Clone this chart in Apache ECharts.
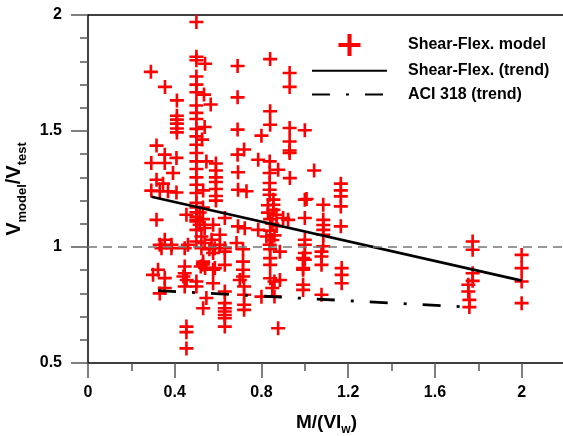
<!DOCTYPE html>
<html>
<head>
<meta charset="utf-8">
<script src="https://cdn.jsdelivr.net/npm/echarts@6/dist/echarts.min.js"></script>
<style>
html,body{margin:0;padding:0;background:#fff;}
#chart{width:563px;height:436px;}
</style>
</head>
<body>
<div id="chart"></div>
<script>
// ---- data ----
const seriesNames = ['Shear-Flex. model', 'Shear-Flex. (trend)', 'ACI 318 (trend)'];
const xTickLabels = ['0', '0.4', '0.8', '1.2', '1.6', '2'];
const yTickLabels = ['0.5', '1', '1.5', '2'];
const referenceRatio = 1;

const shearFlexModel = [
  [0.50,1.97],[0.29,1.755],[0.355,1.69],[0.50,1.82],[0.50,1.805],[0.54,1.79],[0.69,1.78],[0.84,1.81],[0.93,1.75],[0.93,1.69],
  [0.50,1.735],[0.50,1.70],[0.50,1.667],[0.535,1.657],[0.69,1.645],[0.41,1.632],[0.50,1.61],[0.566,1.614],[0.50,1.578],[0.84,1.585],
  [0.41,1.566],[0.41,1.549],[0.41,1.532],[0.41,1.511],[0.41,1.494],[0.50,1.552],[0.50,1.509],[0.538,1.517],[0.84,1.527],[0.69,1.506],
  [0.93,1.513],[1.0,1.503],[0.80,1.48],[0.50,1.477],[0.50,1.441],[0.526,1.463],[0.316,1.437],[0.93,1.455],[0.93,1.416],[0.93,1.405],
  [0.72,1.42],[0.69,1.398],[0.354,1.398],[0.408,1.384],[0.292,1.362],[0.354,1.362],[0.50,1.405],[0.50,1.369],[0.50,1.336],[0.546,1.369],
  [0.59,1.36],[0.392,1.319],[0.785,1.376],[0.838,1.369],[0.877,1.333],[0.692,1.322],[0.838,1.319],[1.043,1.33],[0.59,1.33],[0.59,1.30],
  [0.316,1.29],[0.346,1.273],[0.59,1.28],[0.50,1.30],[0.50,1.268],[0.50,1.233],[0.292,1.243],[0.331,1.24],[0.369,1.24],[0.408,1.235],
  [0.531,1.244],[0.59,1.25],[0.59,1.22],[0.59,1.20],[0.931,1.297],[0.838,1.276],[0.838,1.247],[0.838,1.225],[0.692,1.247],[0.731,1.24],
  [1.0,1.204],[1.166,1.273],[1.166,1.244],[1.166,1.218],[1.008,1.207],
  [0.50,1.19],[0.50,1.17],[0.50,1.15],[0.50,1.13],[0.50,1.11],[0.53,1.17],[0.53,1.12],[0.454,1.139],[0.515,1.149],[0.316,1.117],
  [0.631,1.125],[0.855,1.204],[0.855,1.182],[0.855,1.16],[0.869,1.139],[0.90,1.125],[0.923,1.117],[0.83,1.18],[0.83,1.148],[1.0,1.125],
  [1.085,1.182],[1.166,1.175],[1.085,1.117],[0.692,1.089],[0.723,1.081],[0.785,1.074],[1.085,1.095],[1.085,1.074],[1.085,1.053],[1.166,1.089],
  [0.608,1.053],[0.608,1.01],[0.685,1.017],[0.354,1.031],[0.385,1.01],[0.331,1.01],[0.461,1.01],[1.0,1.031],[1.085,1.003],
  [0.515,1.096],[0.538,1.082],[0.577,1.096],[0.50,1.074],[0.523,1.045],[0.50,1.024],[0.538,1.017],[0.57,1.031],[0.50,1.117],
  [0.823,1.045],[0.838,1.01],[0.84,1.12],[0.85,1.10],[0.84,1.07],[0.86,1.05],[0.85,1.03],[0.87,1.09],[1.774,1.024],
  [0.323,0.902],[0.30,0.88],[0.354,0.866],[0.354,0.823],[0.331,0.80],[0.446,0.916],[0.446,0.887],[0.44,0.873],[0.455,0.858],[0.446,0.83],
  [0.50,0.851],[0.50,0.83],[0.523,0.995],[0.56,0.99],[0.577,0.974],[0.577,0.902],[0.577,0.844],[0.339,0.995],[0.385,0.995],[0.446,0.995],
  [0.546,0.78],[0.531,0.736],[0.454,0.657],[0.454,0.633],[0.454,0.563],[0.531,0.937],[0.53,0.925],[0.52,0.916],[0.54,0.91],
  [0.631,0.923],[0.631,0.808],[0.631,0.758],[0.631,0.736],[0.631,0.722],[0.631,0.707],[0.631,0.693],[0.631,0.657],
  [0.715,0.99],[0.715,0.937],[0.715,0.902],[0.715,0.873],[0.70,0.858],[0.72,0.83],[0.72,0.794],[0.72,0.751],[0.72,0.729],
  [0.585,0.909],[0.80,0.786],[0.84,0.99],[0.84,0.952],[0.84,0.923],[0.84,0.865],[0.86,0.851],[0.85,0.823],[0.86,0.787],[0.877,0.65],
  [0.992,0.952],[0.992,0.909],[0.992,0.902],[0.992,0.837],[0.992,0.815],[0.585,0.995],[0.631,0.995],[0.631,0.98],
  [1.0,1.01],[1.0,0.974],[1.0,0.945],[1.077,0.98],[1.077,0.959],[1.077,0.923],[1.077,0.794],[1.17,0.909],[1.17,0.88],[1.17,0.844],
  [0.885,0.98],[0.885,0.858],
  [1.774,0.988],[1.774,0.887],[1.774,0.854],[1.754,0.837],[1.754,0.808],[1.759,0.772],[1.759,0.741],
  [2.0,0.966],[2.0,0.909],[2.0,0.851],[2.0,0.758]
];
const shearFlexTrend = [[0.293,1.217],[2.0,0.855]];
const aciTrend = [[0.323,0.812],[1.754,0.741]];

// ---- chart ----
const chart = echarts.init(document.getElementById('chart'), null, {renderer:'canvas'});
const FONT = '"Liberation Sans", Arial, Helvetica, sans-serif';
const plusPath = 'path://M5.7,0 H8.3 V5.7 H14 V8.3 H8.3 V14 H5.7 V8.3 H0 V5.7 H5.7 Z';
const tickColor = '#555';
const hiddenMarker = {color: 'rgba(0,0,0,0)', borderColor: 'rgba(0,0,0,0)', borderWidth: 0};

const option = {
  animation: false,
  backgroundColor: '#fff',
  textStyle: {fontFamily: FONT},
  grid: {left: 88, top: 15, width: 477, height: 348, containLabel: false, outerBoundsMode: 'none'},
  legend: {
    orient: 'vertical', left: 311, top: 34, padding: 0,
    itemWidth: 75, itemHeight: 22, itemGap: 6,
    data: [
      {name: seriesNames[0]},
      {name: seriesNames[1], itemStyle: hiddenMarker},
      {name: seriesNames[2], itemStyle: hiddenMarker}
    ],
    textStyle: {fontFamily: FONT, fontSize: 16, fontWeight: 'bold', color: '#000', padding: [0,0,0,16]}
  },
  xAxis: [
    {
      type: 'value', min: 0, max: 2.2, interval: 0.4, position: 'bottom',
      axisLine: {show: true, onZero: false, lineStyle: {color: '#000', width: 1.5}},
      axisTick: {show: true, length: 15, lineStyle: {color: tickColor, width: 1.5}},
      axisLabel: {show: true, margin: 22, showMaxLabel: false, color: '#000', fontFamily: FONT, fontSize: 16, fontWeight: 'bold',
        formatter: v => { const i = Math.round(v/0.4); return (Math.abs(v - i*0.4) < 1e-6 && i < xTickLabels.length) ? xTickLabels[i] : ''; }},
      splitLine: {show: false},
      name: '{a|M/(VI}{s|w}{a|)}', nameLocation: 'middle', nameGap: 50,
      nameTextStyle: {rich: {
        a: {fontFamily: FONT, fontSize: 19, fontWeight: 'bold', color: '#000', lineHeight: 19, verticalAlign: 'top'},
        s: {fontFamily: FONT, fontSize: 12, fontWeight: 'bold', color: '#000', lineHeight: 12, verticalAlign: 'top', padding: [11,0,0,0]}
      }}
    },
    {
      type: 'value', min: 0, max: 2.2, interval: 0.2, position: 'bottom',
      axisLine: {show: false, onZero: false},
      axisTick: {show: true, length: 8, lineStyle: {color: tickColor, width: 1.5}},
      axisLabel: {show: false}, splitLine: {show: false}
    },
    {
      type: 'value', min: 0, max: 2.2, position: 'top',
      axisLine: {show: true, onZero: false, lineStyle: {color: '#000', width: 1.5}},
      axisTick: {show: false}, axisLabel: {show: false}, splitLine: {show: false}
    }
  ],
  yAxis: {
    type: 'value', min: 0.5, max: 2, interval: 0.5,
    axisLine: {show: true, onZero: false, lineStyle: {color: '#000', width: 1.5}},
    axisTick: {show: true, length: 17, lineStyle: {color: tickColor, width: 1.5}},
    minorTick: {show: true, splitNumber: 5, length: 8, lineStyle: {color: tickColor, width: 1.5}},
    axisLabel: {margin: 26, color: '#000', fontFamily: FONT, fontSize: 16, fontWeight: 'bold',
      formatter: v => { const i = Math.round((v-0.5)/0.5); return yTickLabels[i] !== undefined ? yTickLabels[i] : ''; }},
    splitLine: {show: false},
    name: '{a|V}{s|model}{a|/V}{s|test}', nameLocation: 'middle', nameGap: 45,
    nameTextStyle: {rich: {
      a: {fontFamily: FONT, fontSize: 20, fontWeight: 'bold', color: '#000', lineHeight: 20, verticalAlign: 'top'},
      s: {fontFamily: FONT, fontSize: 13, fontWeight: 'bold', color: '#000', lineHeight: 13, verticalAlign: 'top', padding: [11,0,0,0]}
    }}
  },
  series: [
    {
      name: 'ref', type: 'line', xAxisIndex: 0, data: [], z: 1, silent: true,
      markLine: {silent: true, symbol: 'none', label: {show: false},
        lineStyle: {color: '#777', width: 1.5, type: [9,6]},
        data: [{yAxis: referenceRatio}]}
    },
    {
      name: seriesNames[0], type: 'scatter', xAxisIndex: 0, z: 2,
      symbol: plusPath, symbolSize: 14,
      itemStyle: {color: '#ff0000', opacity: 1},
      data: shearFlexModel
    },
    {
      name: seriesNames[1], type: 'line', xAxisIndex: 0, z: 3,
      symbol: 'none', showSymbol: false,
      lineStyle: {color: '#000', width: 2.6, type: 'solid'},
      itemStyle: {color: '#000'},
      data: shearFlexTrend
    },
    {
      name: seriesNames[2], type: 'line', xAxisIndex: 0, z: 3,
      symbol: 'none', showSymbol: false,
      lineStyle: {color: '#000', width: 2.8, type: [18,16,3,16]},
      itemStyle: {color: '#000'},
      data: aciTrend
    }
  ]
};
chart.setOption(option);
</script>
</body>
</html>
